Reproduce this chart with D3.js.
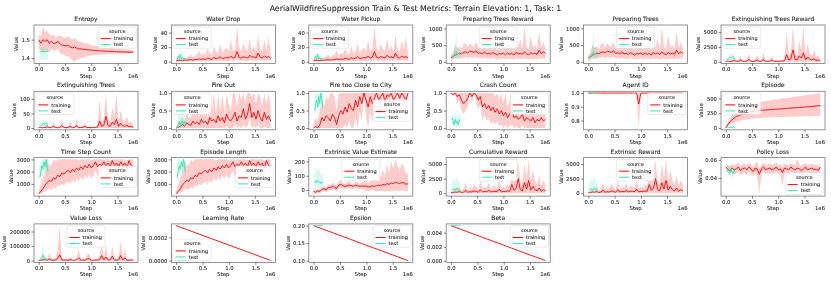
<!DOCTYPE html>
<html>
<head>
<meta charset="utf-8">
<script src="https://cdn.jsdelivr.net/npm/d3@7"></script>
<style>
  body { margin: 0; background: #fff; }
  svg { will-change: transform; }
  svg text { font-family: "DejaVu Sans", sans-serif; fill: #262626; stroke: #262626; stroke-width: 0.08px; }
</style>
</head>
<body>
<svg id="chart" width="831" height="283"></svg>
<script>
// ---------- data (steps are in units of 1e6) ----------
const trainSteps = [0.00,0.04,0.08,0.12,0.16,0.20,0.24,0.28,0.32,0.36,0.40,0.44,0.48,0.52,0.56,0.60,0.64,0.68,0.72,0.76,0.80,0.84,0.88,0.92,0.96,1.00,1.04,1.08,1.12,1.16,1.20,1.24,1.28,1.32,1.36,1.40,1.44,1.48,1.52,1.56,1.60,1.64,1.68,1.72,1.76,1.80];
const testSteps = [0.02,0.04,0.06,0.08,0.10,0.12,0.14,0.16,0.18];
const schedSteps = [0.00, 1.79];

const zeros46 = [0,0,0,0,0,0,0,0,0,0,0,0,0,0,0,0,0,0,0,0,0,0,0,0,0,0,0,0,0,0,0,0,0,0,0,0,0,0,0,0,0,0,0,0,0,0];
const zeros9 = [0,0,0,0,0,0,0,0,0];

// Entropy
const entropyTrain = [1.50,1.48,1.50,1.49,1.50,1.48,1.49,1.48,1.48,1.49,1.48,1.47,1.47,1.465,1.47,1.46,1.455,1.46,1.455,1.45,1.45,1.448,1.447,1.445,1.444,1.443,1.442,1.441,1.44,1.44,1.439,1.438,1.437,1.437,1.436,1.436,1.435,1.435,1.434,1.434,1.433,1.433,1.433,1.432,1.432,1.432];
const entropyTrainHi = [1.53,1.52,1.57,1.54,1.55,1.53,1.52,1.53,1.51,1.52,1.52,1.52,1.51,1.51,1.52,1.51,1.50,1.51,1.50,1.49,1.49,1.485,1.48,1.48,1.475,1.47,1.468,1.466,1.464,1.462,1.46,1.458,1.456,1.455,1.454,1.453,1.452,1.451,1.45,1.449,1.448,1.447,1.446,1.445,1.444,1.443];
const entropyTrainLo = [1.45,1.44,1.43,1.44,1.44,1.43,1.45,1.44,1.44,1.45,1.43,1.42,1.42,1.41,1.41,1.40,1.39,1.38,1.39,1.395,1.40,1.40,1.405,1.41,1.41,1.413,1.415,1.416,1.417,1.418,1.419,1.42,1.42,1.421,1.421,1.422,1.422,1.423,1.423,1.424,1.424,1.424,1.425,1.425,1.425,1.425];
const entropyTest = [1.435,1.434,1.436,1.435,1.434,1.435,1.436,1.435,1.435];
const entropyTestHi = [1.455,1.46,1.455,1.46,1.455,1.45,1.46,1.455,1.45];
const entropyTestLo = [1.39,1.39,1.395,1.39,1.39,1.395,1.39,1.39,1.395];

// Water Drop (Water Pickup reads the same)
const waterTrain = [1,2,2,1.5,2,2,2.5,3,2,3,3,4,3,4,3,5,4,3,6,4,5,7,4,5,6,5,8,5,6,14,6,5,7,6,5,9,6,7,5,12,6,5,8,6,7,5];
const waterTrainHi = [3,5,6,4,5,6,8,10,6,9,10,15,9,12,10,18,12,9,22,12,14,25,12,16,20,14,30,15,18,48,20,14,25,18,15,32,16,22,14,36,18,14,30,16,34,12];
const waterTrainLo = [0,0.5,0.5,0.3,0.5,0.5,0.6,0.8,0.5,0.8,0.8,1,0.8,1,0.8,1.2,1,0.8,1.5,1,1.2,1.5,1,1.2,1.5,1.2,2,1.2,1.5,3,1.5,1.2,1.8,1.5,1.2,2,1.5,1.8,1.2,2.5,1.5,1.2,2,1.5,1.8,1.2];
const waterTest = [3,8,5,10,4,6,3,5,2];
const waterTestHi = [6,14,10,14,8,12,6,9,4];
const waterTestLo = [1,3,2,5,1,2,1,2,0];

// Preparing Trees (Reward reads the same)
const prepTrain = [120,150,200,220,260,240,280,300,260,320,300,280,330,250,270,240,300,230,260,220,280,240,200,250,230,260,210,270,220,250,200,280,230,260,220,300,240,210,280,230,260,220,350,240,300,250];
const prepTrainHi = [200,260,500,420,460,380,520,560,420,560,480,460,600,420,440,400,620,380,480,360,520,420,340,460,400,480,360,560,380,500,340,600,420,700,380,1050,460,380,800,420,520,380,900,420,600,420];
const prepTrainLo = [0,80,100,100,120,100,120,140,100,140,120,120,140,100,110,90,120,90,100,80,110,90,70,90,80,100,70,100,80,90,70,100,80,90,70,100,80,70,90,80,90,70,110,80,90,80];
const prepTest = [100,150,200,250,300,200,250,220,200];
const prepTestHi = [200,300,400,500,850,400,450,350,300];
const prepTestLo = [30,60,80,100,120,80,100,90,80];

// Extinguishing Trees Reward
const extRewTrain = [50,100,60,100,200,90,60,300,100,50,100,400,90,60,100,300,60,100,400,60,100,100,300,60,100,60,100,100,200,1200,300,500,2000,400,300,1000,600,1500,300,800,400,300,500,200,300,100];
const extRewTrainHi = [100,200,150,300,800,200,150,1000,200,150,300,1400,200,150,300,1200,150,200,1600,150,200,300,1000,150,200,150,300,200,600,5000,1000,1500,5900,1500,1000,3500,2000,5900,1000,3000,1500,1000,2000,800,1200,400];
const extRewTest = [300,400,500,800,600,700,900,500,400];
const extRewTestHi = [600,800,1000,1500,1200,1300,1600,900,700];
const extRewTestLo = [0,0,100,100,100,100,200,100,0];

// Extinguishing Trees
const extTrain = [1,2,1,2,4,2,1,6,2,1,2,8,2,1,2,6,1,2,8,1,2,2,6,1,2,1,2,2,4,24,6,10,40,8,6,20,12,30,6,16,8,6,10,4,6,2];
const extTrainHi = [2,4,3,6,16,4,3,20,4,3,6,28,4,3,6,24,3,4,32,3,4,6,20,3,4,3,6,4,12,100,20,30,120,30,20,70,40,120,20,60,30,20,40,16,24,8];
const extTest = [6,8,10,16,12,14,18,10,8];
const extTestHi = [12,16,20,30,24,26,32,18,14];
const extTestLo = [0,0,2,2,2,2,4,2,0];

// Fire Out
const fireOutTrain = [0,0.02,0.05,0.1,0.05,0.15,0.1,0.08,0.2,0.12,0.18,0.1,0.25,0.15,0.2,0.1,0.3,0.2,0.25,0.15,0.35,0.2,0.3,0.15,0.4,0.25,0.2,0.3,0.45,0.2,0.35,0.3,0.55,0.25,0.4,0.7,0.3,0.45,0.25,0.5,0.3,0.2,0.45,0.25,0.35,0.2];
const fireOutTrainHi = [0.05,0.1,0.2,0.3,0.2,0.4,0.3,0.3,0.6,0.4,0.5,0.3,0.7,0.4,0.6,0.3,0.8,0.5,1.0,0.4,1.0,0.5,1.0,0.4,1.0,0.7,0.5,1.0,1.0,0.6,1.0,0.8,1.0,0.7,1.0,1.0,0.9,1.0,0.7,1.0,0.9,0.6,1.0,0.7,1.0,0.6];
const fireOutTrainLo = [0,0,0,0,0,0,0,0,0,0,0,0,0,0,0,0,0,0,0,0,0,0,0,0,0.05,0,0,0,0.1,0,0.05,0,0.1,0,0.05,0.3,0,0.05,0,0.1,0,0,0.05,0,0,0];
const fireOutTest = [0,0.1,0.2,0.05,0.15,0.2,0.1,0.2,0.1];
const fireOutTestHi = [0.1,0.6,1.0,0.3,0.8,1.0,0.5,0.9,0.4];

// Fire too Close to City
const cityTrain = [0,0.05,0,0.1,0.3,0.2,0.35,0.3,0.2,0.4,0.3,0.1,0.35,0.5,0.4,0.6,0.45,0.7,0.55,0.5,0.8,0.6,0.9,0.7,1.0,0.8,0.6,0.9,0.7,0.85,1.0,0.8,0.9,1.0,0.75,0.95,0.9,1.0,0.8,0.9,1.0,0.85,1.0,0.9,0.8,1.0];
const cityTrainHi = [0.1,0.3,0.2,0.5,0.8,0.6,0.9,0.8,1.0,1.0,0.9,0.5,1.0,1.0,1.0,1.0,1.0,1.0,1.0,1.0,1.0,1.0,1.0,1.0,1.0,1.0,1.0,1.0,1.0,1.0,1.0,1.0,1.0,1.0,1.0,1.0,1.0,1.0,1.0,1.0,1.0,1.0,1.0,1.0,1.0,1.0];
const cityTrainLo = [0,0,0,0,0,0,0,0,0,0,0,0,0,0,0,0.1,0,0.2,0,0,0.3,0,0.5,0.2,1.0,0.3,0,0.5,0.2,0.4,1.0,0.3,0.5,1.0,0.2,0.6,0.5,1.0,0.3,0.5,1.0,0.4,1.0,0.5,0.3,1.0];
const cityTest = [0.5,0.7,0.8,0.6,0.9,0.7,1.0,0.8,0.6];
const cityTestHi = [1,1,1,1,1,1,1,1,1];
const cityTestLo = [0.4,0.4,0.5,0.4,0.6,0.4,1.0,0.5,0.4];

// Crash Count
const crashTrain = [1.0,0.95,1.0,0.9,0.95,0.8,0.7,0.75,0.85,1.0,0.9,1.0,0.95,0.8,0.9,0.6,0.7,0.55,0.65,0.5,0.6,0.45,0.55,0.4,0.5,0.35,0.45,0.3,0.4,0.5,0.3,0.35,0.25,0.3,0.4,0.2,0.3,0.25,0.2,0.3,0.15,0.25,0.2,0.3,0.2,0.25];
const crashTrainHi = [1,1,1,1,1,1,1,1,1,1,1,1,1,1,1,1,1,1,1,1,1,0.9,1,0.8,1,0.7,1,0.6,0.8,1,0.6,0.7,0.5,0.6,0.8,0.4,0.6,0.5,0.4,0.6,0.3,0.5,0.4,0.6,0.4,0.5];
const crashTrainLo = [1,0.9,1,0.7,0.8,0.5,0.4,0.5,0.6,1,0.7,1,0.8,0.5,0.7,0.2,0.4,0.2,0.3,0.1,0.2,0.1,0.2,0.05,0.1,0,0.1,0,0.05,0.1,0,0.05,0,0,0.1,0,0,0,0,0,0,0,0,0,0,0];
const crashTest = [0.3,0.2,0.1,0.25,0.15,0.2,0.1,0.2,0.25];
const crashTestHi = [0.5,0.4,0.3,0.5,0.35,0.4,0.3,0.4,0.45];
const crashTestLo = [0.1,0.05,0,0.1,0,0.05,0,0.05,0.1];

// Agent ID
const agentTrain = [1,1,1,1,1,1,1,1,1,1,1,1,1,1,1,1,1,1,1,1,1,1,1,1,0.92,1,1,1,1,1,1,1,1,1,1,1,1,1,1,1,1,1,1,1,1,1];
const agentTrainHi = [1,1,1,1,1,1,1,1,1,1,1,1,1,1,1,1,1,1,1,1,1,1,1,1,1,1,1,1,1,1,1,1,1,1,1,1,1,1,1,1,1,1,1,1,1,1];
const agentTrainLo = [1,1,1,1,1,1,1,1,1,1,1,1,1,1,1,1,1,1,1,1,1,1,1,1,0.745,1,1,1,1,1,1,1,1,1,1,1,1,1,1,1,1,1,1,1,1,1];
const agentTest = [1,1,1,1,1,1,1,1,1];

// Episode
const episodeTrain = [0,60,105,140,168,190,208,222,235,246,256,265,273,280,286,291,295,299,302,305,308,311,314,316,318,320,323,326,329,332,335,337,340,342,345,347,350,352,355,358,361,364,368,372,376,380];
const episodeTrainHi = [0,90,160,210,250,285,310,330,350,365,380,392,403,413,422,430,437,444,450,456,462,467,472,477,482,487,492,497,502,507,512,517,522,527,532,537,541,546,551,556,561,566,571,576,581,590];
const episodeTrainLo = [0,30,55,75,92,105,115,124,132,139,145,150,155,159,163,166,169,171,173,175,177,179,181,182,183,185,186,187,188,189,190,191,192,193,194,195,196,197,198,199,200,201,202,203,204,205];
const episodeTest = [2,5,8,10,12,14,16,18,20];
const episodeTestHi = [4,8,12,15,18,20,22,24,26];
const episodeTestLo = [0,2,4,6,7,8,9,10,12];

// Time Step Count (Episode Length reads the same)
const stepsTrain = [200,400,600,900,1100,1300,1200,1500,1400,1700,1600,1900,1800,2000,2100,1900,2200,2000,2300,2100,2400,2200,2500,2300,2600,2300,2500,2800,2400,2600,2500,2800,2500,2700,2400,2900,2500,2700,2400,2800,2500,2700,2300,2900,2500,2400];
const stepsTrainHi = [400,1000,1500,2000,3000,2500,2500,3000,2800,3000,3000,3000,3000,3000,3000,3000,3000,3000,3000,2900,3000,3000,3000,3000,3000,2900,3000,3000,3000,3000,3000,3000,3000,3000,2900,3000,3000,3000,3000,3000,3000,3000,2900,3000,3000,3000];
const stepsTrainLo = [150,200,300,400,500,600,500,700,600,900,800,1000,900,1100,1200,1000,1300,1100,1500,1200,1600,1300,1700,1400,1800,1400,1700,2100,1600,1900,1700,2200,1900,2100,1700,2500,1900,2200,1800,2300,1900,2200,1700,2600,2000,2000];
const stepsTest = [1500,2000,2500,2200,2800,2400,3000,2300,2000];
const stepsTestHi = [2500,3000,3000,3000,3000,3000,3000,3000,2800];
const stepsTestLo = [1200,1500,1800,1600,2200,1700,2500,1600,1400];

// Extrinsic Value Estimate
const valueEstTrain = [-10,-15,-5,-10,5,10,0,20,15,25,20,10,35,40,30,25,30,35,30,25,35,30,25,30,25,30,20,25,30,25,30,35,30,40,35,45,40,50,45,55,50,45,55,50,40,45];
const valueEstTrainHi = [0,-5,10,5,20,30,15,40,35,50,45,30,60,70,50,45,55,60,50,45,60,55,45,55,60,70,50,60,80,70,90,110,90,140,100,180,120,200,150,215,170,140,190,160,120,110];
const valueEstTrainLo = [-20,-30,-20,-25,-10,-5,-15,0,-5,5,0,-10,15,20,10,5,10,15,10,5,15,10,5,10,0,-5,-10,-5,0,-5,-10,-5,-10,-5,-10,-5,-10,-5,-10,0,-5,-10,0,-5,-10,-5];
const valueEstTest = [60,50,70,55,50,60,45,55,50];
const valueEstTestHi = [170,120,150,130,160,110,100,120,100];
const valueEstTestLo = [20,0,30,10,0,20,0,15,10];

// Cumulative Reward (Extrinsic Reward reads the same)
const rewardTrain = [50,100,200,150,300,100,200,500,150,250,200,400,300,150,600,200,300,250,500,200,350,300,250,700,200,300,250,400,300,1500,500,800,2500,600,400,1800,700,2200,500,1200,600,400,900,300,600,400];
const rewardTrainHi = [200,400,800,500,1200,400,700,1800,500,900,700,1500,1100,500,2200,700,1100,900,1800,700,1300,1100,900,2500,700,1100,900,1500,1100,4500,2000,3000,5500,2200,1500,5000,2500,5800,2000,4000,2200,1500,3000,1200,2200,1500];
const rewardTest = [400,600,800,500,700,900,600,500,400];
const rewardTestHi = [1500,2200,2500,1800,2600,2800,2000,1600,1200];
const rewardTestLo = [-200,0,100,0,0,100,0,0,-100];

// Policy Loss
const policyTrain = [0.052,0.05,0.048,0.051,0.049,0.05,0.052,0.048,0.05,0.051,0.049,0.052,0.05,0.047,0.051,0.05,0.044,0.05,0.052,0.049,0.05,0.051,0.049,0.05,0.052,0.049,0.05,0.046,0.051,0.05,0.049,0.052,0.05,0.049,0.051,0.05,0.048,0.05,0.052,0.049,0.05,0.051,0.049,0.05,0.048,0.052];
const policyTrainHi = [0.056,0.054,0.053,0.055,0.054,0.055,0.057,0.053,0.055,0.056,0.054,0.057,0.055,0.052,0.056,0.058,0.05,0.055,0.057,0.054,0.055,0.056,0.054,0.055,0.057,0.054,0.055,0.052,0.056,0.055,0.054,0.057,0.055,0.054,0.0605,0.055,0.053,0.055,0.057,0.054,0.055,0.056,0.054,0.055,0.053,0.057];
const policyTrainLo = [0.048,0.046,0.043,0.047,0.044,0.045,0.047,0.043,0.045,0.046,0.044,0.047,0.045,0.042,0.046,0.042,0.022,0.045,0.047,0.044,0.045,0.046,0.044,0.045,0.047,0.044,0.045,0.03,0.046,0.045,0.044,0.047,0.045,0.044,0.046,0.045,0.043,0.045,0.047,0.044,0.045,0.046,0.044,0.045,0.043,0.047];
const policyTest = [0.05,0.048,0.049,0.046,0.05,0.047,0.045,0.048,0.049];
const policyTestHi = [0.054,0.053,0.054,0.052,0.055,0.053,0.051,0.053,0.054];
const policyTestLo = [0.046,0.043,0.044,0.04,0.045,0.042,0.04,0.043,0.044];

// Value Loss
const vlossTrain = [2000,3000,5000,8000,3000,12000,4000,3000,5000,15000,40000,5000,3000,4000,2000,8000,3000,2000,5000,20000,4000,4000,2000,10000,15000,3000,2000,4000,3000,8000,35000,5000,25000,3000,5000,30000,4000,3000,5000,35000,4000,20000,3000,2000,5000,2000];
const vlossTrainHi = [5000,8000,15000,30000,10000,50000,15000,8000,20000,70000,240000,20000,8000,15000,5000,30000,8000,5000,20000,75000,15000,15000,5000,40000,50000,8000,5000,15000,8000,30000,130000,20000,110000,8000,20000,100000,15000,8000,20000,140000,15000,80000,8000,5000,20000,5000];
const vlossTest = [5000,10000,20000,40000,15000,8000,12000,6000,5000];
const vlossTestHi = [10000,20000,60000,115000,40000,20000,30000,15000,10000];

// schedules
const lrTrain = [0.0003, 0.0000017];
const lrTest = [0,0,0,0,0,0,0,0,0];
const epsTrain = [0.2, 0.1];
const epsTest = [0.2,0.2,0.2,0.2,0.2,0.2,0.2,0.2,0.2];
const betaTrain = [0.005, 0.00003];
const betaTest = [0.005,0.005,0.005,0.005,0.005,0.005,0.005,0.005,0.005];

// tick labels
const xTickLabels = ['0.0', '0.5', '1.0', '1.5'];
const entropyTicks = ['1.4', '1.5'];
const waterTicks = ['0', '20', '40'];
const prepTicks = ['0', '500', '1000'];
const reward5kTicks = ['0', '2500', '5000'];
const extTicks = ['0', '50', '100'];
const fracTicks = ['0.0', '0.5', '1.0'];
const agentTicks = ['0.8', '0.9', '1.0'];
const episodeTicks = ['0', '250', '500'];
const stepsTicks = ['1000', '2000', '3000'];
const valueEstTicks = ['0', '100', '200'];
const policyTicks = ['0.04', '0.06'];
const vlossTicks = ['0', '100000', '200000'];
const lrTicks = ['0.0000', '0.0002'];
const epsTicks = ['0.10', '0.15', '0.20'];
const betaTicks = ['0.000', '0.002', '0.004'];

const seriesNames = ['training', 'test'];
const colors = { training: '#ff0000', test: '#33e6b4' };

function S(x, y, lo, hi) { return { x: x, y: y, lo: lo, hi: hi }; }

const panels = [
  { title: 'Entropy', ticks: entropyTicks, leg: 'ur',
    train: S(trainSteps, entropyTrain, entropyTrainLo, entropyTrainHi), test: S(testSteps, entropyTest, entropyTestLo, entropyTestHi) },
  { title: 'Water Drop', ticks: waterTicks, leg: 'ul',
    train: S(trainSteps, waterTrain, waterTrainLo, waterTrainHi), test: S(testSteps, waterTest, waterTestLo, waterTestHi) },
  { title: 'Water Pickup', ticks: waterTicks, leg: 'ul',
    train: S(trainSteps, waterTrain, waterTrainLo, waterTrainHi), test: S(testSteps, waterTest, waterTestLo, waterTestHi) },
  { title: 'Preparing Trees Reward', ticks: prepTicks, leg: 'uc',
    train: S(trainSteps, prepTrain, prepTrainLo, prepTrainHi), test: S(testSteps, prepTest, prepTestLo, prepTestHi) },
  { title: 'Preparing Trees', ticks: prepTicks, leg: 'uc',
    train: S(trainSteps, prepTrain, prepTrainLo, prepTrainHi), test: S(testSteps, prepTest, prepTestLo, prepTestHi) },
  { title: 'Extinguishing Trees Reward', ticks: reward5kTicks, leg: 'ul',
    train: S(trainSteps, extRewTrain, zeros46, extRewTrainHi), test: S(testSteps, extRewTest, extRewTestLo, extRewTestHi) },
  { title: 'Extinguishing Trees', ticks: extTicks, leg: 'ul',
    train: S(trainSteps, extTrain, zeros46, extTrainHi), test: S(testSteps, extTest, extTestLo, extTestHi) },
  { title: 'Fire Out', ticks: fracTicks, leg: 'ul',
    train: S(trainSteps, fireOutTrain, fireOutTrainLo, fireOutTrainHi), test: S(testSteps, fireOutTest, zeros9, fireOutTestHi) },
  { title: 'Fire too Close to City', ticks: fracTicks, leg: 'cr',
    train: S(trainSteps, cityTrain, cityTrainLo, cityTrainHi), test: S(testSteps, cityTest, cityTestLo, cityTestHi) },
  { title: 'Crash Count', ticks: fracTicks, leg: 'ur',
    train: S(trainSteps, crashTrain, crashTrainLo, crashTrainHi), test: S(testSteps, crashTest, crashTestLo, crashTestHi) },
  { title: 'Agent ID', ticks: agentTicks, leg: 'ur',
    train: S(trainSteps, agentTrain, agentTrainLo, agentTrainHi), test: S(testSteps, agentTest) },
  { title: 'Episode', ticks: episodeTicks, leg: 'ul',
    train: S(trainSteps, episodeTrain, episodeTrainLo, episodeTrainHi), test: S(testSteps, episodeTest, episodeTestLo, episodeTestHi) },
  { title: 'Time Step Count', ticks: stepsTicks, leg: 'cr',
    train: S(trainSteps, stepsTrain, stepsTrainLo, stepsTrainHi), test: S(testSteps, stepsTest, stepsTestLo, stepsTestHi) },
  { title: 'Episode Length', ticks: stepsTicks, leg: 'cr',
    train: S(trainSteps, stepsTrain, stepsTrainLo, stepsTrainHi), test: S(testSteps, stepsTest, stepsTestLo, stepsTestHi) },
  { title: 'Extrinsic Value Estimate', ticks: valueEstTicks, leg: 'uc',
    train: S(trainSteps, valueEstTrain, valueEstTrainLo, valueEstTrainHi), test: S(testSteps, valueEstTest, valueEstTestLo, valueEstTestHi) },
  { title: 'Cumulative Reward', ticks: reward5kTicks, leg: 'uc',
    train: S(trainSteps, rewardTrain, zeros46, rewardTrainHi), test: S(testSteps, rewardTest, rewardTestLo, rewardTestHi) },
  { title: 'Extrinsic Reward', ticks: reward5kTicks, leg: 'uc',
    train: S(trainSteps, rewardTrain, zeros46, rewardTrainHi), test: S(testSteps, rewardTest, rewardTestLo, rewardTestHi) },
  { title: 'Policy Loss', ticks: policyTicks, leg: 'lr',
    train: S(trainSteps, policyTrain, policyTrainLo, policyTrainHi), test: S(testSteps, policyTest, policyTestLo, policyTestHi) },
  { title: 'Value Loss', ticks: vlossTicks, leg: 'uc',
    train: S(trainSteps, vlossTrain, zeros46, vlossTrainHi), test: S(testSteps, vlossTest, zeros9, vlossTestHi) },
  { title: 'Learning Rate', ticks: lrTicks, leg: 'll',
    train: S(schedSteps, lrTrain), test: S(testSteps, lrTest) },
  { title: 'Epsilon', ticks: epsTicks, leg: 'ur',
    train: S(schedSteps, epsTrain), test: S(testSteps, epsTest) },
  { title: 'Beta', ticks: betaTicks, leg: 'ur',
    train: S(schedSteps, betaTrain), test: S(testSteps, betaTest) }
];

// ---------- layout ----------
const svg = d3.select('#chart');
const cols = 6, left0 = 34, colStep = 137.4, plotW = 104;
const top0 = 25, rowStep = 66.3, plotH = 38.5;
const tickFont = 5.3;
const ink = '#262626';

svg.append('text')
  .attr('x', 415.5).attr('y', 11)
  .attr('text-anchor', 'middle')
  .attr('fill', ink)
  .style('font-size', '7.85px')
  .text('AerialWildfireSuppression Train & Test Metrics: Terrain Elevation: 1, Task: 1');

function padded(ext) {
  const pad = (ext[1] - ext[0]) * 0.05;
  return [ext[0] - pad, ext[1] + pad];
}

panels.forEach(function (p, i) {
  const r = Math.floor(i / cols), c = i % cols;
  const g = svg.append('g')
    .attr('transform', 'translate(' + (left0 + c * colStep) + ',' + (top0 + r * rowStep) + ')');

  const allX = p.train.x.concat(p.test.x);
  let allY = [];
  [p.train, p.test].forEach(function (s) {
    allY = allY.concat(s.y, s.lo || [], s.hi || []);
  });
  const x = d3.scaleLinear().domain(padded(d3.extent(allX))).range([0, plotW]);
  const y = d3.scaleLinear().domain(padded(d3.extent(allY))).range([plotH, 0]);

  const clipId = 'clip' + i;
  g.append('clipPath').attr('id', clipId)
    .append('rect').attr('width', plotW).attr('height', plotH);
  const body = g.append('g').attr('clip-path', 'url(#' + clipId + ')');

  [p.train, p.test].forEach(function (s, k) {
    const col = colors[seriesNames[k]];
    if (s.lo) {
      const area = d3.area()
        .x(function (d, j) { return x(s.x[j]); })
        .y0(function (d, j) { return y(s.lo[j]); })
        .y1(function (d, j) { return y(s.hi[j]); });
      body.append('path').attr('d', area(s.y))
        .attr('fill', col).attr('fill-opacity', 0.2).attr('stroke', 'none');
    }
    const line = d3.line()
      .x(function (d, j) { return x(s.x[j]); })
      .y(function (d) { return y(d); });
    body.append('path').attr('d', line(s.y))
      .attr('fill', 'none').attr('stroke', col).attr('stroke-width', 0.9);
  });

  // frame
  g.append('rect').attr('width', plotW).attr('height', plotH)
    .attr('fill', 'none').attr('stroke', '#7a7a7a').attr('stroke-width', 0.8);

  // x axis
  const xa = g.append('g').attr('transform', 'translate(0,' + plotH + ')')
    .call(d3.axisBottom(x).tickValues(xTickLabels.map(Number))
      .tickFormat(function (d, j) { return xTickLabels[j]; })
      .tickSize(2.5).tickPadding(1.5));
  xa.select('.domain').remove();
  xa.selectAll('line').attr('stroke', '#333').attr('stroke-width', 0.6);
  xa.selectAll('text').style('font-size', tickFont + 'px').attr('fill', ink)
    .style('font-family', '"DejaVu Sans", sans-serif');

  // y axis
  const ya = g.append('g')
    .call(d3.axisLeft(y).tickValues(p.ticks.map(Number))
      .tickFormat(function (d, j) { return p.ticks[j]; })
      .tickSize(2.5).tickPadding(1.5));
  ya.select('.domain').remove();
  ya.selectAll('line').attr('stroke', '#333').attr('stroke-width', 0.6);
  ya.selectAll('text').style('font-size', tickFont + 'px').attr('fill', ink)
    .style('font-family', '"DejaVu Sans", sans-serif');
  const yw = ya.node().getBBox().width;

  g.append('text')
    .attr('transform', 'translate(' + (-yw - 3.5) + ',' + (plotH / 2) + ') rotate(-90)')
    .attr('text-anchor', 'middle').attr('fill', ink)
    .style('font-size', tickFont + 'px')
    .text('Value');

  g.append('text')
    .attr('x', plotW / 2).attr('y', plotH + 14)
    .attr('text-anchor', 'middle').attr('fill', ink)
    .style('font-size', tickFont + 'px')
    .text('Step');

  g.append('text')
    .attr('x', plotW).attr('y', plotH + 14)
    .attr('text-anchor', 'end').attr('fill', ink)
    .style('font-size', tickFont + 'px')
    .text('1e6');

  g.append('text')
    .attr('x', plotW / 2).attr('y', -4)
    .attr('text-anchor', 'middle').attr('fill', ink)
    .style('font-size', '6px')
    .text(p.title);

  // legend
  const lw = 38, lh = 21.5, pad = 1.8;
  let lx = plotW - pad - lw, ly = pad;
  if (p.leg[1] === 'l') lx = pad;
  if (p.leg[1] === 'c') lx = (plotW - lw) / 2;
  if (p.leg[0] === 'c') ly = (plotH - lh) / 2;
  if (p.leg[0] === 'l') ly = plotH - pad - lh;
  const lg = g.append('g').attr('transform', 'translate(' + lx + ',' + ly + ')');
  lg.append('rect').attr('width', lw).attr('height', lh).attr('rx', 1.5)
    .attr('fill', '#fff').attr('fill-opacity', 0.8)
    .attr('stroke', '#d6d6d6').attr('stroke-width', 0.5);
  lg.append('text').attr('x', lw / 2).attr('y', 6.2)
    .attr('text-anchor', 'middle').attr('fill', ink)
    .style('font-size', '5px').text('source');
  seriesNames.forEach(function (name, k) {
    const yy = 11.8 + k * 6;
    lg.append('line').attr('x1', 2.5).attr('x2', 12.5).attr('y1', yy).attr('y2', yy)
      .attr('stroke', colors[name]).attr('stroke-width', 1);
    lg.append('text').attr('x', 15.5).attr('y', yy + 1.8).attr('fill', ink)
      .style('font-size', '5px').text(name);
  });
});
</script>
</body>
</html>
